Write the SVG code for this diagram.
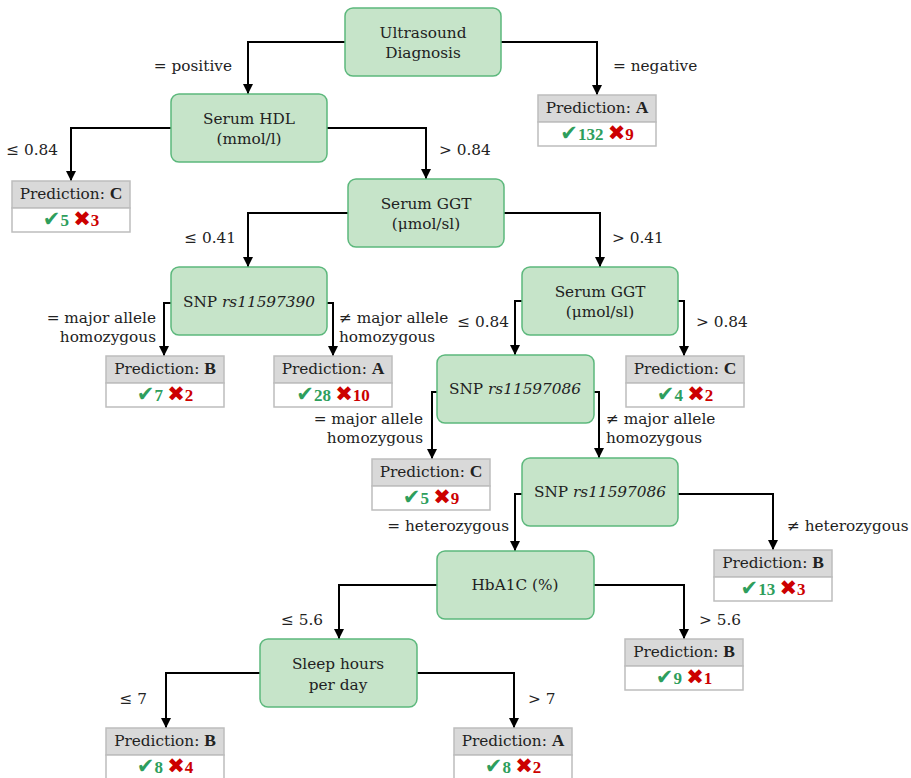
<svg xmlns="http://www.w3.org/2000/svg" width="911" height="778" viewBox="0 0 911 778" font-family="'DejaVu Serif', serif">
  <style>
    .node rect { fill: #c6e4c9; stroke: #5cb87c; stroke-width: 1.5; }
    .t { font-family: 'DejaVu Serif', serif; font-size: 15.3px; fill: #222; }
    .c { text-anchor: middle; }
    .e { text-anchor: end; }
    .hdr { fill: #d9d9d9; stroke: #bdbdbd; stroke-width: 1.5; }
    .row { fill: #ffffff; stroke: #bdbdbd; stroke-width: 1.5; }
    .b { font-family: 'Liberation Serif', serif; font-weight: bold; font-size: 17.5px; }
    .sym { font-family: 'DejaVu Sans', sans-serif; font-size: 21px; }
    .ok { fill: #2e9e5c; }
    .no { fill: #cc0000; }
    .num { font-family: 'Liberation Serif', serif; font-weight: bold; font-size: 17px; }
    .edge { fill: none; stroke: #000; stroke-width: 2; marker-end: url(#arrow); }
  </style>
  <defs>
    <marker id="arrow" viewBox="0 0 10 10" refX="10" refY="5" markerWidth="11" markerHeight="10" markerUnits="userSpaceOnUse" orient="auto">
      <path d="M0,0 L10,5 L0,10 z" fill="#000"/>
    </marker>
  </defs>
  <rect width="911" height="778" fill="#ffffff"/>

  <!-- connectors -->
  <g id="connectors">
    <path class="edge" d="M345,42 H248 V94"/>
    <path class="edge" d="M501,42 H597 V95"/>
    <path class="edge" d="M171,128 H71 V181"/>
    <path class="edge" d="M327,128 H426 V179"/>
    <path class="edge" d="M348,213 H248 V267"/>
    <path class="edge" d="M504,213 H600 V267"/>
    <path class="edge" d="M171,303 H164 V356"/>
    <path class="edge" d="M327,303 H333 V356"/>
    <path class="edge" d="M522,301 H515 V355"/>
    <path class="edge" d="M678,301 H684 V356"/>
    <path class="edge" d="M437,392 H432 V459"/>
    <path class="edge" d="M594,392 H599 V458"/>
    <path class="edge" d="M522,494 H515 V551"/>
    <path class="edge" d="M678,494 H773 V550"/>
    <path class="edge" d="M437,585 H339 V639"/>
    <path class="edge" d="M594,585 H684 V639"/>
    <path class="edge" d="M260,673 H166 V728"/>
    <path class="edge" d="M417,673 H514 V728"/>
  </g>

  <!-- edge labels -->
  <g id="edge-labels">
    <text class="t e" x="232" y="71">= positive</text>
    <text class="t" x="613" y="71">= negative</text>
    <text class="t e" x="58" y="155">≤ 0.84</text>
    <text class="t" x="439" y="155">&gt; 0.84</text>
    <text class="t e" x="236" y="243">≤ 0.41</text>
    <text class="t" x="612" y="243">&gt; 0.41</text>
    <text class="t e" x="156" y="323">= major allele</text>
    <text class="t e" x="156" y="342">homozygous</text>
    <text class="t" x="339" y="323">≠ major allele</text>
    <text class="t" x="339" y="342">homozygous</text>
    <text class="t e" x="509" y="327">≤ 0.84</text>
    <text class="t" x="696" y="327">&gt; 0.84</text>
    <text class="t e" x="423" y="424">= major allele</text>
    <text class="t e" x="423" y="443">homozygous</text>
    <text class="t" x="606" y="424">≠ major allele</text>
    <text class="t" x="606" y="443">homozygous</text>
    <text class="t e" x="509" y="531">= heterozygous</text>
    <text class="t" x="787" y="531">≠ heterozygous</text>
    <text class="t e" x="323" y="625">≤ 5.6</text>
    <text class="t" x="699" y="625">&gt; 5.6</text>
    <text class="t e" x="147" y="704">≤ 7</text>
    <text class="t" x="528" y="704">&gt; 7</text>
  </g>

  <!-- decision nodes -->
  <g id="n-ultrasound" class="node">
    <rect x="345" y="8" width="156" height="68" rx="8"/>
    <text class="t c" x="423" y="38">Ultrasound</text>
    <text class="t c" x="423" y="58">Diagnosis</text>
  </g>
  <g id="n-hdl" class="node">
    <rect x="171" y="94" width="156" height="68" rx="8"/>
    <text class="t c" x="249" y="124">Serum HDL</text>
    <text class="t c" x="249" y="144">(mmol/l)</text>
  </g>
  <g id="n-ggt1" class="node">
    <rect x="348" y="179" width="156" height="68" rx="8"/>
    <text class="t c" x="426" y="209">Serum GGT</text>
    <text class="t c" x="426" y="229">(μmol/sl)</text>
  </g>
  <g id="n-snp390" class="node">
    <rect x="171" y="267" width="156" height="68" rx="8"/>
    <text class="t c" x="249" y="307">SNP <tspan font-style="italic">rs11597390</tspan></text>
  </g>
  <g id="n-ggt2" class="node">
    <rect x="522" y="267" width="156" height="68" rx="8"/>
    <text class="t c" x="600" y="297">Serum GGT</text>
    <text class="t c" x="600" y="317">(μmol/sl)</text>
  </g>
  <g id="n-snp086a" class="node">
    <rect x="437" y="355" width="157" height="68" rx="8"/>
    <text class="t c" x="515" y="394">SNP <tspan font-style="italic">rs11597086</tspan></text>
  </g>
  <g id="n-snp086b" class="node">
    <rect x="522" y="458" width="156" height="68" rx="8"/>
    <text class="t c" x="600" y="497">SNP <tspan font-style="italic">rs11597086</tspan></text>
  </g>
  <g id="n-hba1c" class="node">
    <rect x="437" y="551" width="157" height="68" rx="8"/>
    <text class="t c" x="515" y="590">HbA1C (%)</text>
  </g>
  <g id="n-sleep" class="node">
    <rect x="260" y="639" width="157" height="68" rx="8"/>
    <text class="t c" x="338" y="669">Sleep hours</text>
    <text class="t c" x="338" y="690">per day</text>
  </g>

  <!-- prediction leaves -->
  <g id="p-a1">
    <rect class="hdr" x="538" y="95" width="118" height="27"/>
    <rect class="row" x="538" y="122" width="118" height="24"/>
    <text class="t c" x="597" y="113">Prediction: <tspan class="b">A</tspan></text>
    <text class="c" x="597" y="140"><tspan class="sym ok">✔</tspan><tspan class="num ok">132</tspan><tspan class="num"> </tspan><tspan class="sym no">✖</tspan><tspan class="num no">9</tspan></text>
  </g>
  <g id="p-c1">
    <rect class="hdr" x="12" y="181" width="118" height="27"/>
    <rect class="row" x="12" y="208" width="118" height="24"/>
    <text class="t c" x="71" y="199">Prediction: <tspan class="b">C</tspan></text>
    <text class="c" x="71" y="226"><tspan class="sym ok">✔</tspan><tspan class="num ok">5</tspan><tspan class="num"> </tspan><tspan class="sym no">✖</tspan><tspan class="num no">3</tspan></text>
  </g>
  <g id="p-b1">
    <rect class="hdr" x="106" y="356" width="118" height="27"/>
    <rect class="row" x="106" y="383" width="118" height="24"/>
    <text class="t c" x="165" y="374">Prediction: <tspan class="b">B</tspan></text>
    <text class="c" x="165" y="401"><tspan class="sym ok">✔</tspan><tspan class="num ok">7</tspan><tspan class="num"> </tspan><tspan class="sym no">✖</tspan><tspan class="num no">2</tspan></text>
  </g>
  <g id="p-a2">
    <rect class="hdr" x="274" y="356" width="118" height="27"/>
    <rect class="row" x="274" y="383" width="118" height="24"/>
    <text class="t c" x="333" y="374">Prediction: <tspan class="b">A</tspan></text>
    <text class="c" x="333" y="401"><tspan class="sym ok">✔</tspan><tspan class="num ok">28</tspan><tspan class="num"> </tspan><tspan class="sym no">✖</tspan><tspan class="num no">10</tspan></text>
  </g>
  <g id="p-c2">
    <rect class="hdr" x="626" y="356" width="118" height="27"/>
    <rect class="row" x="626" y="383" width="118" height="24"/>
    <text class="t c" x="685" y="374">Prediction: <tspan class="b">C</tspan></text>
    <text class="c" x="685" y="401"><tspan class="sym ok">✔</tspan><tspan class="num ok">4</tspan><tspan class="num"> </tspan><tspan class="sym no">✖</tspan><tspan class="num no">2</tspan></text>
  </g>
  <g id="p-c3">
    <rect class="hdr" x="372" y="459" width="118" height="27"/>
    <rect class="row" x="372" y="486" width="118" height="24"/>
    <text class="t c" x="431" y="477">Prediction: <tspan class="b">C</tspan></text>
    <text class="c" x="431" y="504"><tspan class="sym ok">✔</tspan><tspan class="num ok">5</tspan><tspan class="num"> </tspan><tspan class="sym no">✖</tspan><tspan class="num no">9</tspan></text>
  </g>
  <g id="p-b2">
    <rect class="hdr" x="714" y="550" width="118" height="27"/>
    <rect class="row" x="714" y="577" width="118" height="24"/>
    <text class="t c" x="773" y="568">Prediction: <tspan class="b">B</tspan></text>
    <text class="c" x="773" y="595"><tspan class="sym ok">✔</tspan><tspan class="num ok">13</tspan><tspan class="num"> </tspan><tspan class="sym no">✖</tspan><tspan class="num no">3</tspan></text>
  </g>
  <g id="p-b3">
    <rect class="hdr" x="625" y="639" width="118" height="27"/>
    <rect class="row" x="625" y="666" width="118" height="24"/>
    <text class="t c" x="684" y="657">Prediction: <tspan class="b">B</tspan></text>
    <text class="c" x="684" y="684"><tspan class="sym ok">✔</tspan><tspan class="num ok">9</tspan><tspan class="num"> </tspan><tspan class="sym no">✖</tspan><tspan class="num no">1</tspan></text>
  </g>
  <g id="p-b4">
    <rect class="hdr" x="106" y="728" width="118" height="27"/>
    <rect class="row" x="106" y="755" width="118" height="24"/>
    <text class="t c" x="165" y="746">Prediction: <tspan class="b">B</tspan></text>
    <text class="c" x="165" y="773"><tspan class="sym ok">✔</tspan><tspan class="num ok">8</tspan><tspan class="num"> </tspan><tspan class="sym no">✖</tspan><tspan class="num no">4</tspan></text>
  </g>
  <g id="p-a3">
    <rect class="hdr" x="454" y="728" width="118" height="27"/>
    <rect class="row" x="454" y="755" width="118" height="24"/>
    <text class="t c" x="513" y="746">Prediction: <tspan class="b">A</tspan></text>
    <text class="c" x="513" y="773"><tspan class="sym ok">✔</tspan><tspan class="num ok">8</tspan><tspan class="num"> </tspan><tspan class="sym no">✖</tspan><tspan class="num no">2</tspan></text>
  </g>
</svg>
